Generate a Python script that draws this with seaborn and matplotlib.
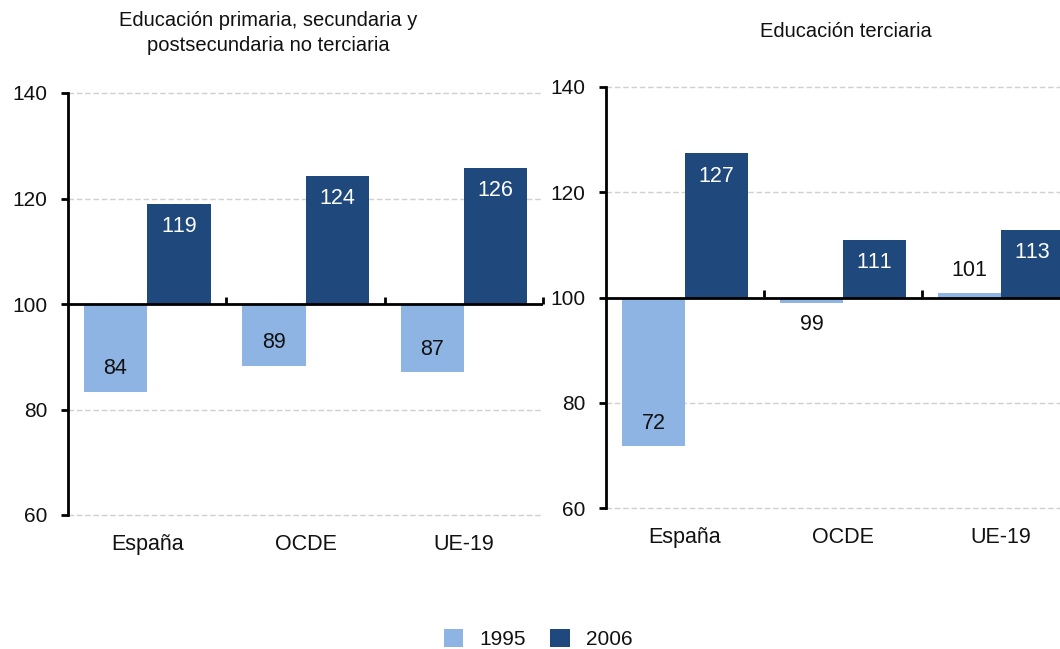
import matplotlib
matplotlib.use("Agg")
import matplotlib.pyplot as plt
import seaborn as sns
import pandas as pd
import numpy as np

regions = ["España", "OCDE", "UE-19"]
years = ["1995", "2006"]

# Left panel: primaria, secundaria y postsecundaria no terciaria
left_1995 = [83.4, 88.3, 87.1]
left_2006 = [119.0, 124.3, 125.8]
left_lab_1995 = ["84", "89", "87"]
left_lab_2006 = ["119", "124", "126"]

# Right panel: terciaria
right_1995 = [71.7, 99.0, 100.9]
right_2006 = [127.4, 111.0, 112.9]
right_lab_1995 = ["72", "99", "101"]
right_lab_2006 = ["127", "111", "113"]

title_left = "Educación primaria, secundaria y\npostsecundaria no terciaria"
title_right = "Educación terciaria"

base = 100
c_light = "#8EB4E3"
c_dark = "#1F497D"

sns.set_theme(style="white")
plt.rcParams["font.family"] = ["Liberation Sans", "DejaVu Sans"]
plt.rcParams["text.kerning_factor"] = 10

fig = plt.figure(figsize=(10.6, 6.49), dpi=100)
ax_l = fig.add_axes([68/1060, 1-515/649, 475/1060, 422/649])
ax_r = fig.add_axes([606/1060, 1-508/649, 474/1060, 421/649])


def draw(ax, v95, v06, l95, l06, title, tx, ty):
    df = pd.DataFrame({
        "region": regions * 2,
        "year": [years[0]] * 3 + [years[1]] * 3,
        "dev": [v - base for v in v95] + [v - base for v in v06],
    })
    sns.barplot(data=df, x="region", y="dev", hue="year", order=regions,
                hue_order=years, palette=[c_light, c_dark], saturation=1,
                bottom=base, width=0.8, linewidth=0, errorbar=None,
                legend=False, ax=ax, zorder=2)
    ax.set_ylim(60, 140)
    ax.set_xlim(-0.5, 2.5)
    ax.set_yticks([60, 80, 100, 120, 140])
    ax.set_xlabel("")
    ax.set_ylabel("")
    ax.yaxis.grid(True, color="#D0D0D0", linestyle=(0, (4, 2)), linewidth=1, zorder=0)
    ax.xaxis.grid(False)
    ax.set_axisbelow(True)
    for gl in ax.yaxis.get_gridlines():
        gl.set_clip_on(False)
    for s in ["top", "right", "bottom"]:
        ax.spines[s].set_visible(False)
    ax.spines["left"].set_color("black")
    ax.spines["left"].set_linewidth(2)
    ax.tick_params(axis="y", which="major", left=True, direction="out", length=5,
                   width=2, color="black", pad=10, labelsize=15, labelcolor="#111111")
    ax.tick_params(axis="x", bottom=False, length=0, pad=14, labelsize=15.5,
                   labelcolor="#111111")
    # base line at 100 with separators between groups
    ax.axhline(base, color="black", linewidth=2, zorder=3)
    sec = ax.secondary_xaxis(0.5)
    sec.set_xticks([0.5, 1.5, 2.5])
    sec.set_xticklabels([])
    sec.tick_params(axis="x", direction="out", length=5, width=2, color="black")
    for s in sec.spines.values():
        s.set_visible(False)

    labels = [l95, l06]
    txtcol = ["#111111", "white"]
    for ci, cont in enumerate(ax.containers):
        for bi, p in enumerate(cont.patches):
            h = p.get_height()
            x = p.get_x() + p.get_width() / 2
            end = base + h
            sgn = 1 if h >= 0 else -1
            if abs(h) < 3:
                off = sgn * 16
                col = "#111111"
            else:
                off = -sgn * 16.5
                col = txtcol[ci]
            ax.annotate(labels[ci][bi], (x, end), xytext=(0, off),
                        textcoords="offset points", ha="center", va="center",
                        fontsize=15.5, color=col, zorder=5)
    ax.text(tx, ty, title, transform=ax.transAxes, ha="center", va="center",
            fontsize=14.5, color="#111111", linespacing=1.45)


draw(ax_l, left_1995, left_2006, left_lab_1995, left_lab_2006, title_left, 0.421, 1.142)
draw(ax_r, right_1995, right_2006, right_lab_1995, right_lab_2006, title_right, 0.506, 1.133)

handles = list(ax_l.containers)
fig.legend(handles=handles, labels=years, loc="center", bbox_to_anchor=(538/1060, 1-639/649),
           ncol=2, frameon=False, fontsize=15, handlelength=0.95, handleheight=0.95,
           handletextpad=0.75, columnspacing=1.2, labelcolor="#111111")

fig.savefig("out.png", dpi=100)
